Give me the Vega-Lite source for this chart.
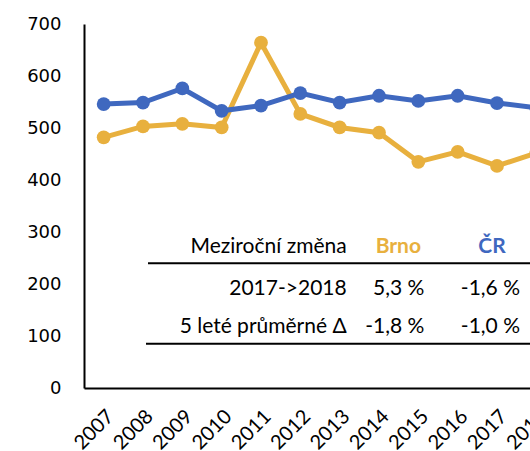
{
  "$schema": "https://vega.github.io/schema/vega-lite/v6.json",
  "width": 472,
  "height": 364,
  "autosize": {"type": "none"},
  "padding": {"left": 84, "top": 24, "right": 0, "bottom": 63},
  "config": {"view": {"stroke": null}, "font": "Lato", "text": {"font": "Lato", "fontSize": 21, "color": "#000000", "baseline": "middle"}},
  "datasets": {
    "series": [
      {"year": "2007", "region": "Brno", "value": 482},
      {"year": "2008", "region": "Brno", "value": 503},
      {"year": "2009", "region": "Brno", "value": 508},
      {"year": "2010", "region": "Brno", "value": 501},
      {"year": "2011", "region": "Brno", "value": 664},
      {"year": "2012", "region": "Brno", "value": 527},
      {"year": "2013", "region": "Brno", "value": 501},
      {"year": "2014", "region": "Brno", "value": 491},
      {"year": "2015", "region": "Brno", "value": 435},
      {"year": "2016", "region": "Brno", "value": 454},
      {"year": "2017", "region": "Brno", "value": 427},
      {"year": "2018", "region": "Brno", "value": 452},
      {"year": "2007", "region": "ČR", "value": 546},
      {"year": "2008", "region": "ČR", "value": 549},
      {"year": "2009", "region": "ČR", "value": 576},
      {"year": "2010", "region": "ČR", "value": 533},
      {"year": "2011", "region": "ČR", "value": 543},
      {"year": "2012", "region": "ČR", "value": 567},
      {"year": "2013", "region": "ČR", "value": 549},
      {"year": "2014", "region": "ČR", "value": 562},
      {"year": "2015", "region": "ČR", "value": 552},
      {"year": "2016", "region": "ČR", "value": 562},
      {"year": "2017", "region": "ČR", "value": 548},
      {"year": "2018", "region": "ČR", "value": 539}
    ],
    "table": [
      {"row": "header", "metric": "Meziroční změna", "Brno": "Brno", "CR": "ČR"},
      {"row": "r1", "metric": "2017->2018", "Brno": "5,3 %", "CR": "-1,6 %"},
      {"row": "r2", "metric": "5 leté průměrné Δ", "Brno": "-1,8 %", "CR": "-1,0 %"}
    ]
  },
  "layer": [
    {
      "data": {"name": "series"},
      "mark": {"type": "line", "strokeWidth": 5},
      "encoding": {
        "x": {"field": "year", "type": "ordinal", "axis": {"title": null, "labelAngle": -45, "ticks": false, "grid": false, "domainColor": "#000000", "domainWidth": 2, "labelFont": "Lato", "labelFontSize": 20, "labelColor": "#000000", "labelPadding": 18}},
        "y": {"field": "value", "type": "quantitative", "scale": {"domain": [0, 700]}, "axis": {"title": null, "values": [0, 100, 200, 300, 400, 500, 600, 700], "ticks": false, "grid": false, "domainColor": "#000000", "domainWidth": 2, "labelFont": "DejaVu Sans", "labelFontSize": 18, "labelColor": "#000000", "labelPadding": 23}},
        "color": {"field": "region", "type": "nominal", "scale": {"domain": ["Brno", "ČR"], "range": ["#E8B03E", "#3F68BF"]}, "legend": null}
      }
    },
    {
      "data": {"name": "series"},
      "mark": {"type": "point", "filled": true, "size": 190, "opacity": 1},
      "encoding": {
        "x": {"field": "year", "type": "ordinal"},
        "y": {"field": "value", "type": "quantitative"},
        "color": {"field": "region", "type": "nominal"}
      }
    },
    {
      "data": {"name": "table"},
      "transform": [{"filter": "datum.row === 'header'"}],
      "mark": {"type": "rule", "strokeWidth": 2, "color": "#000000", "xOffset": 5, "x2Offset": 30},
      "encoding": {
        "x": {"datum": "2008", "type": "ordinal"},
        "x2": {"datum": "2018"},
        "y": {"datum": 240, "type": "quantitative"}
      }
    },
    {
      "data": {"name": "table"},
      "transform": [{"filter": "datum.row === 'header'"}],
      "mark": {"type": "rule", "strokeWidth": 2, "color": "#000000", "xOffset": 3, "x2Offset": 30},
      "encoding": {
        "x": {"datum": "2008", "type": "ordinal"},
        "x2": {"datum": "2018"},
        "y": {"datum": 85, "type": "quantitative"}
      }
    },
    {
      "data": {"name": "table"},
      "transform": [{"filter": "datum.row === 'header'"}],
      "mark": {"type": "text", "align": "right", "xOffset": 7},
      "encoding": {"x": {"datum": "2013", "type": "ordinal"}, "y": {"datum": 271, "type": "quantitative"}, "text": {"field": "metric"}}
    },
    {
      "data": {"name": "table"},
      "transform": [{"filter": "datum.row === 'header'"}],
      "mark": {"type": "text", "align": "center", "xOffset": -20, "fontWeight": "bold", "color": "#E8B03E"},
      "encoding": {"x": {"datum": "2015", "type": "ordinal"}, "y": {"datum": 271, "type": "quantitative"}, "text": {"field": "Brno"}}
    },
    {
      "data": {"name": "table"},
      "transform": [{"filter": "datum.row === 'header'"}],
      "mark": {"type": "text", "align": "center", "xOffset": -5, "fontWeight": "bold", "color": "#3F68BF"},
      "encoding": {"x": {"datum": "2017", "type": "ordinal"}, "y": {"datum": 271, "type": "quantitative"}, "text": {"field": "CR"}}
    },
    {
      "data": {"name": "table"},
      "transform": [{"filter": "datum.row === 'r1'"}],
      "mark": {"type": "text", "align": "right", "xOffset": 7},
      "encoding": {"x": {"datum": "2013", "type": "ordinal"}, "y": {"datum": 190, "type": "quantitative"}, "text": {"field": "metric"}}
    },
    {
      "data": {"name": "table"},
      "transform": [{"filter": "datum.row === 'r1'"}],
      "mark": {"type": "text", "align": "right", "xOffset": 6},
      "encoding": {"x": {"datum": "2015", "type": "ordinal"}, "y": {"datum": 190, "type": "quantitative"}, "text": {"field": "Brno"}}
    },
    {
      "data": {"name": "table"},
      "transform": [{"filter": "datum.row === 'r1'"}],
      "mark": {"type": "text", "align": "right", "xOffset": 23},
      "encoding": {"x": {"datum": "2017", "type": "ordinal"}, "y": {"datum": 190, "type": "quantitative"}, "text": {"field": "CR"}}
    },
    {
      "data": {"name": "table"},
      "transform": [{"filter": "datum.row === 'r2'"}],
      "mark": {"type": "text", "align": "right", "xOffset": 7},
      "encoding": {"x": {"datum": "2013", "type": "ordinal"}, "y": {"datum": 117, "type": "quantitative"}, "text": {"field": "metric"}}
    },
    {
      "data": {"name": "table"},
      "transform": [{"filter": "datum.row === 'r2'"}],
      "mark": {"type": "text", "align": "right", "xOffset": 6},
      "encoding": {"x": {"datum": "2015", "type": "ordinal"}, "y": {"datum": 117, "type": "quantitative"}, "text": {"field": "Brno"}}
    },
    {
      "data": {"name": "table"},
      "transform": [{"filter": "datum.row === 'r2'"}],
      "mark": {"type": "text", "align": "right", "xOffset": 23},
      "encoding": {"x": {"datum": "2017", "type": "ordinal"}, "y": {"datum": 117, "type": "quantitative"}, "text": {"field": "CR"}}
    }
  ]
}
